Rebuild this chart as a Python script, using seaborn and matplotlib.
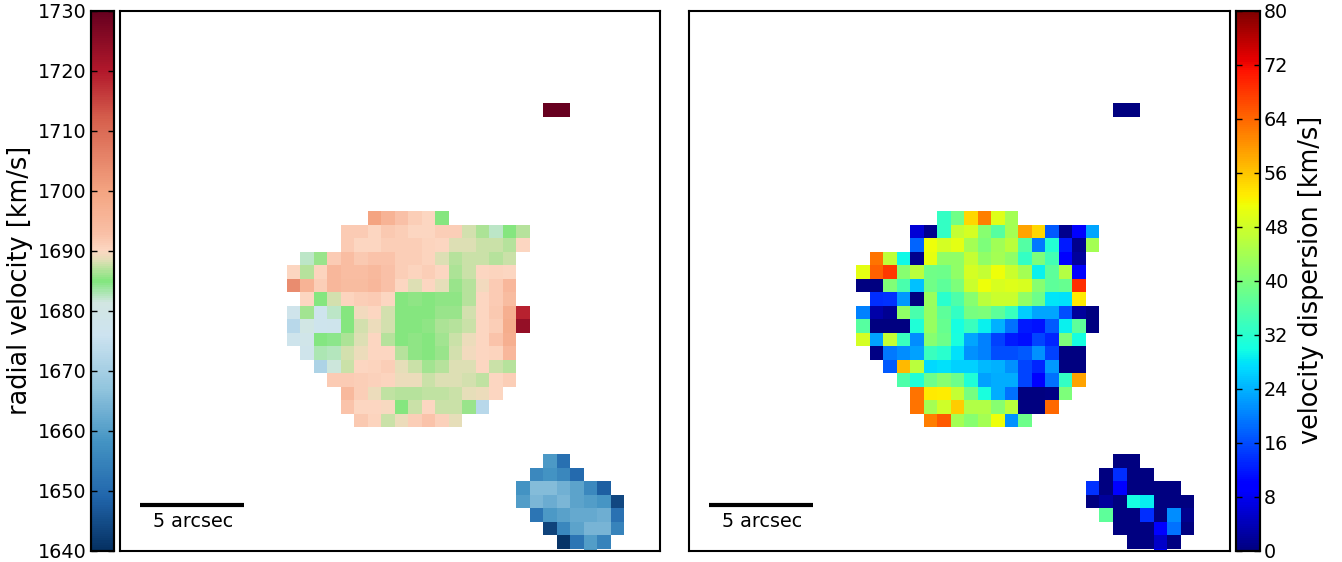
# velocity and dispersion maps, same spaxel grid for both panels
import numpy as np
import matplotlib
matplotlib.use('Agg')
import matplotlib.pyplot as plt
import seaborn as sns
from matplotlib.colors import LinearSegmentedColormap

sns.set_theme(style='white', rc={'font.family': 'DejaVu Sans'})

n_rows, n_cols = 41, 40

# spaxels: row number, first column, then one value per column
rows = [7, 15, 16, 17, 18, 19, 20, 21, 22, 23, 24, 25, 26, 27, 28, 29, 30,
        33, 34, 35, 36, 37, 38, 39, 40]
first_col = [31, 18, 16, 16, 13, 12, 12, 13, 12, 12, 12, 13, 14, 15, 16, 16, 17,
             31, 30, 29, 29, 30, 31, 32, 34]

velocity = [
    [1730, 1730],
    [1700, 1696, 1693, 1691, 1690, 1685],
    [1691.5, 1691.5, 1690, 1692, 1691, 1690, 1690, 1691, 1691, 1688, 1686.5, 1682.5, 1685, 1687],
    [1691.5, 1690, 1690, 1691, 1691, 1691, 1690.5, 1690, 1688.5, 1688.5, 1687.5, 1687.5, 1686.8, 1690],
    [1682.5, 1686, 1691.5, 1693.5, 1692, 1692.5, 1692.5, 1691, 1691, 1690.5, 1688.3, 1686.8, 1687.5, 1687.8, 1687, 1687.7],
    [1690, 1687, 1690.5, 1695, 1693.5, 1693.5, 1694.5, 1693, 1691, 1690.5, 1691, 1690, 1686.5, 1687.6, 1690, 1690.5, 1690],
    [1704, 1696, 1691, 1695, 1694, 1694, 1695, 1693, 1690, 1688.4, 1690, 1688.8, 1686, 1687, 1689.3, 1691.5, 1695],
    [1690, 1685, 1688, 1690.5, 1691, 1691.5, 1690, 1685, 1685.7, 1685, 1685.5, 1685.5, 1687, 1690, 1691.5, 1694],
    [1678, 1686.2, 1677, 1682.5, 1685, 1689.3, 1690, 1688, 1685.3, 1685, 1685, 1685.8, 1686, 1688, 1690, 1692, 1697, 1719],
    [1673, 1680.5, 1677, 1677.5, 1685, 1688, 1689.2, 1688, 1685.3, 1685, 1685.5, 1686.5, 1687, 1687.8, 1690, 1691, 1698, 1724],
    [1677.5, 1679, 1684.8, 1684.5, 1686.5, 1688.5, 1690, 1687, 1685, 1685.6, 1685, 1686.4, 1687.7, 1689, 1690, 1692.5, 1697],
    [1678, 1682.9, 1682.7, 1688, 1689.2, 1690, 1690, 1687, 1685.5, 1685, 1686, 1688, 1689.3, 1690.2, 1690.5, 1695],
    [1671, 1681.8, 1687.6, 1690, 1690.5, 1691, 1688.8, 1687.8, 1686.4, 1687, 1688.4, 1688.4, 1690, 1687.6, 1687],
    [1691.5, 1691.5, 1691.3, 1690.7, 1690.5, 1689.2, 1688.9, 1687.8, 1688.4, 1688.4, 1688, 1687.2, 1690, 1691],
    [1694.5, 1691, 1689.2, 1687.4, 1687, 1687, 1687.3, 1687.2, 1687.8, 1688.6, 1688.9, 1690],
    [1692.5, 1690, 1690, 1689.8, 1685.3, 1687.7, 1690, 1687.5, 1687.5, 1686, 1673],
    [1692, 1690.5, 1687.8, 1689.2, 1691, 1692.7, 1690.7, 1688.8],
    [1659, 1651],
    [1656, 1658, 1655.5, 1650],
    [1658, 1665.5, 1665.5, 1663.5, 1661, 1656, 1648],
    [1660, 1664.5, 1662.5, 1664.5, 1661, 1660, 1658.5, 1644],
    [1652, 1659, 1660.5, 1662, 1662, 1663, 1651.5],
    [1643.5, 1655.5, 1661, 1664, 1664, 1655],
    [1641, 1652, 1660, 1655],
    [1660],
]

dispersion = [
    [0, 0],
    [33, 39, 54.5, 62, 49.5, 44],
    [6, 1, 33, 47, 48.5, 41, 36.5, 44, 59, 54.5, 17, 1, 9.5, 23],
    [18, 51, 48.5, 50, 44, 40, 43.5, 46, 36, 19.5, 31.5, 12, 1, 44],
    [63, 46.5, 29.5, 1, 50.5, 42, 42, 47, 42, 44, 42, 33, 40, 34.5, 9.5, 2],
    [50, 64.5, 68, 41, 46, 39, 38.5, 42, 48.5, 47, 51, 47.5, 44, 29, 37, 45.5, 9.5],
    [0, 0, 40.5, 35, 25, 39, 37, 40, 47.5, 51, 49, 49.5, 49, 41, 37, 38, 69],
    [13.5, 14, 22, 0, 43, 32, 35.5, 41, 46, 47.5, 47.5, 42, 38.5, 28, 27.5, 53],
    [20, 3, 1.5, 42, 35, 42.5, 37, 33, 39.5, 40, 37, 33.5, 26, 23, 23, 16, 2, 0],
    [36.5, 0, 0, 0, 31, 42.5, 38, 30, 33.5, 29, 24, 19, 12, 11.5, 17, 29, 37, 0],
    [48.5, 22.5, 47, 33.5, 21, 41, 38.5, 30.5, 23, 20, 15, 12, 11, 15.5, 13, 40, 30],
    [0.5, 19.5, 21, 22.5, 33.5, 32, 27.5, 21.5, 20, 16, 16, 17, 21.5, 15, 0, 0],
    [17, 57, 46, 27, 27.5, 26.5, 26.5, 24.5, 24, 21.5, 15.5, 13, 22, 0, 0],
    [35.5, 31, 38.5, 41, 38.5, 31, 22.5, 23.5, 23.5, 15.5, 9.5, 19, 33, 59],
    [63, 53, 52.5, 47, 39.5, 30.5, 23.5, 19, 0, 0, 0.5, 40],
    [63, 44, 48, 55.5, 45, 45, 41, 46, 0, 0, 64],
    [62, 65, 44, 41, 44, 51, 21.5, 38.5],
    [0, 0],
    [0, 13.5, 0, 0],
    [14, 0, 9.5, 0, 0, 0, 0],
    [0, 2, 0, 30, 28.5, 0, 0, 0],
    [37, 0, 0, 13.5, 0, 21, 1],
    [0, 0, 0, 9.5, 19, 0],
    [0, 0, 5, 0],
    [9.5],
]

vel_ticks = [1640, 1650, 1660, 1670, 1680, 1690, 1700, 1710, 1720, 1730]
disp_ticks = [0, 8, 16, 24, 32, 40, 48, 56, 64, 72, 80]
vel_label = 'radial velocity [km/s]'
disp_label = 'velocity dispersion [km/s]'
scale_text = '5 arcsec'

# RdBu_r with the white middle swapped for green
vel_cmap = LinearSegmentedColormap.from_list('rdbu_green', [
    (0.0, '#053061'), (0.1, '#2166ac'), (0.2, '#4393c3'), (0.3, '#92c5de'),
    (0.4, '#cde3f0'), (0.46, '#d2e6e2'), (0.5, '#80e67c'), (0.54, '#e4dfb8'),
    (0.556, '#fcd7c2'), (0.59, '#f9bfa5'), (0.665, '#f4a582'), (0.8, '#d6604d'), (0.89, '#b2182b'),
    (1.0, '#67001f')], N=256)


def make_grid(values):
    grid = np.full((n_rows, n_cols), np.nan)
    for r, c, vals in zip(rows, first_col, values):
        grid[r, c:c + len(vals)] = vals
    return grid


fig = plt.figure(figsize=(13.42, 5.62), dpi=100)
W, H = 1342.0, 562.0


def px_axes(x0, y0, x1, y1):
    return fig.add_axes([x0 / W, 1 - y1 / H, (x1 - x0) / W, (y1 - y0) / H])


ax1 = px_axes(120, 11, 660, 551)
ax2 = px_axes(689, 11, 1230, 551)
cax1 = px_axes(90.5, 11, 114, 551)
cax2 = px_axes(1236, 11, 1259.5, 551)

sns.heatmap(make_grid(velocity), ax=ax1, cbar_ax=cax1, cmap=vel_cmap, vmin=1640, vmax=1730,
            xticklabels=False, yticklabels=False, cbar_kws={'ticks': vel_ticks})
sns.heatmap(make_grid(dispersion), ax=ax2, cbar_ax=cax2, cmap='jet', vmin=0, vmax=80,
            xticklabels=False, yticklabels=False, cbar_kws={'ticks': disp_ticks})

for ax in [ax1, ax2]:
    ax.plot([1.13, 8.83], [36.76, 36.76], color='black', lw=3, solid_capstyle='butt')
    ax.text(5.06, 37.98, scale_text, ha='center', va='center', fontsize=13.8, color='black')
    ax.set_xlim(-0.35, 39.65)
    ax.set_ylim(40.16, 0.16)
    ax.tick_params(left=False, bottom=False)
    for s in ax.spines.values():
        s.set_visible(True)
        s.set_color('black')
        s.set_linewidth(1.5)

for cax in [cax1, cax2]:
    # seaborn's style puts ticks under the colour strip, bring them back on top
    cax.set_axisbelow(False)
    cax.tick_params(axis='y', which='major', direction='in', left=True, right=True,
                    length=4, width=1, color='black', labelsize=13.8, labelcolor='black', pad=3)
    cax.minorticks_off()
    for s in cax.spines.values():
        s.set_visible(True)
        s.set_color('black')
        s.set_linewidth(1.5)

cax1.yaxis.set_ticks_position('both')
cax1.tick_params(axis='y', labelleft=True, labelright=False)
cax2.yaxis.set_ticks_position('both')
cax2.tick_params(axis='y', labelleft=False, labelright=True)

fig.text(20 / W, 1 - 280 / H, vel_label, rotation=90, ha='center', va='center',
         fontsize=18.4, color='black')
fig.text(1311 / W, 1 - 280 / H, disp_label, rotation=90, ha='center', va='center',
         fontsize=18.4, color='black')

fig.savefig('out.png', dpi=100, facecolor='white')
